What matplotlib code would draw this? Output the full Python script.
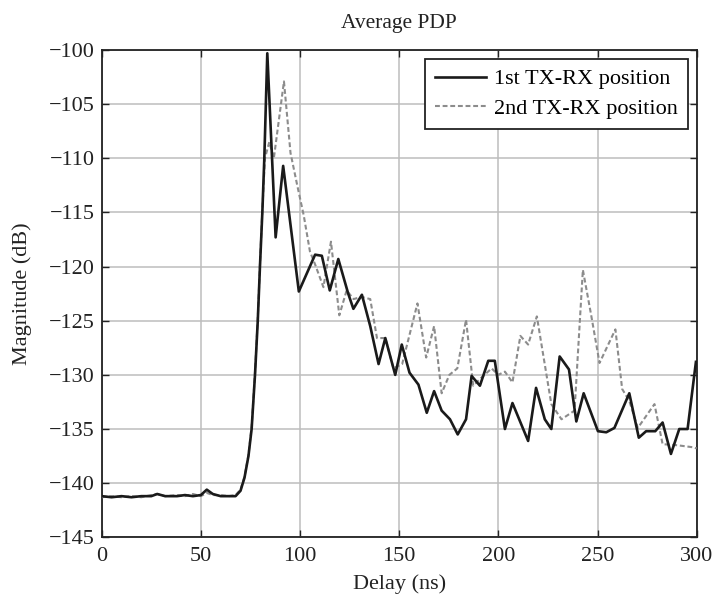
import matplotlib
matplotlib.use("Agg")
import matplotlib.pyplot as plt

plt.rcParams['font.family'] = ['Liberation Serif', 'DejaVu Serif']
plt.rcParams['lines.scale_dashes'] = False

title = "Average PDP"
xlabel = "Delay (ns)"
ylabel = "Magnitude (dB)"
labels = ["1st TX-RX position", "2nd TX-RX position"]
xticks = [0, 50, 100, 150, 200, 250, 300]
yticks = [-145, -140, -135, -130, -125, -120, -115, -110, -105, -100]

x1 = [0, 5, 10, 15, 20, 25, 28, 32, 38, 42, 46, 50, 53, 56, 60, 64, 67.5, 70, 72, 74,
      75.6, 77.3, 78.7, 79.8, 81, 82, 83.5, 87.7, 91.5, 99.4, 107.6, 111, 115, 119.3,
      124.3, 126.9, 131.2, 135.4, 139.6, 143, 148, 151.3, 155.2, 159.7, 163.9, 167.6,
      171.4, 175.6, 179.5, 183.7, 186.5, 190.7, 194.9, 198.2, 203.3, 207.1, 215, 219,
      223.4, 226.7, 230.9, 235.6, 239.3, 243, 250.2, 254.4, 258.5, 266, 270.8, 274.5,
      279.1, 282.8, 287, 291.2, 295.4, 299.6]
y1 = [-141.2, -141.3, -141.2, -141.3, -141.2, -141.2, -141.0, -141.2, -141.2, -141.1,
      -141.2, -141.1, -140.6, -141.0, -141.2, -141.2, -141.2, -140.7, -139.5, -137.5,
      -135.0, -130.0, -125.0, -120.0, -115.0, -110.0, -100.3, -117.3, -110.7, -122.3,
      -118.9, -119.0, -122.2, -119.3, -122.5, -123.9, -122.6, -125.5, -129.0, -126.6,
      -130.0, -127.2, -129.8, -130.9, -133.5, -131.5, -133.3, -134.1, -135.5, -134.1,
      -130.1, -131.0, -128.7, -128.7, -135.0, -132.6, -136.1, -131.2, -134.1, -135.0,
      -128.3, -129.5, -134.3, -131.7, -135.2, -135.3, -134.9, -131.7, -135.8, -135.2,
      -135.2, -134.4, -137.3, -135.0, -135.0, -128.8]

x2 = [0, 5, 10, 15, 20, 25, 28, 32, 38, 42, 46, 50, 53, 56, 60, 64, 67.5, 70, 72, 74,
      75.6, 77.3, 78.7, 79.8, 81, 82.3, 84.5, 86.8, 91.9, 95.2, 98.6, 101.9, 105, 107.6,
      111.8, 115.6, 119.8, 123.5, 127, 131, 135.4, 138.8, 143, 147.1, 151.5, 159.2,
      163.6, 167.6, 171.4, 175.3, 179.3, 183.7, 187.3, 191.2, 196.6, 199.9, 203.3,
      207.1, 211.1, 215, 219.4, 226.7, 231.8, 238.4, 242.6, 246.8, 251, 259, 262.4,
      266, 270.3, 278.7, 282.8, 290.3, 298.7, 300]
y2 = [-141.3, -141.2, -141.3, -141.2, -141.3, -141.1, -141.0, -141.2, -141.1, -141.2,
      -141.0, -141.2, -140.9, -141.1, -141.1, -141.2, -141.1, -140.6, -139.4, -137.4,
      -134.8, -129.8, -124.8, -119.8, -114.8, -110.0, -108.5, -110.0, -102.9, -109.5,
      -112.5, -115.3, -118.6, -119.8, -121.9, -117.7, -124.5, -122.2, -123.0, -122.8,
      -123.0, -126.6, -126.6, -129.4, -129.0, -123.4, -128.4, -125.5, -131.7, -130.0,
      -129.4, -124.9, -131.0, -130.3, -129.4, -130.0, -129.7, -130.7, -126.4, -127.2,
      -124.6, -132.7, -134.1, -133.3, -120.3, -124.5, -128.9, -125.8, -131.3, -132.4,
      -134.9, -132.7, -136.4, -136.5, -136.7, -136.8]

fig = plt.figure(figsize=(7.14, 5.97), dpi=100)
ax = fig.add_axes([0.1424, 0.100, 0.8334, 0.8162])

ax.plot(x2, y2, color='#8c8c8c', lw=1.5, dashes=(3.5, 2), label=labels[1], zorder=3)
ax.plot(x1, y1, color='#1a1a1a', lw=1.9, label=labels[0], zorder=4)

ax.set_xlim(0, 300)
ax.set_ylim(-145, -100)
ax.set_xticks(xticks)
ax.set_yticks(yticks)
ax.grid(True, color='#bdbdbd', lw=1.1)
ax.set_axisbelow(True)
ax.tick_params(direction='in', top=True, right=True, labelsize=16, length=5,
               width=1.0, colors='#222222', pad=5)
ax.tick_params(axis='x', pad=7)
for s in ax.spines.values():
    s.set_color('#222222')
    s.set_linewidth(1.3)

ax.set_title(title, fontsize=15.5, color='#222222', pad=16)
ax.set_xlabel(xlabel, fontsize=16, color='#222222', labelpad=6)
ax.set_ylabel(ylabel, fontsize=16, color='#222222', labelpad=12)

h, l = ax.get_legend_handles_labels()
leg = ax.legend([h[1], h[0]], [l[1], l[0]], loc='upper right', fontsize=16,
                frameon=True, fancybox=False, edgecolor='#222222', framealpha=1,
                handlelength=2.3, borderaxespad=0.4, borderpad=0.45,
                labelspacing=0.4, handletextpad=0.35)
leg.get_frame().set_linewidth(1.3)

fig.savefig("out.png", dpi=100)
